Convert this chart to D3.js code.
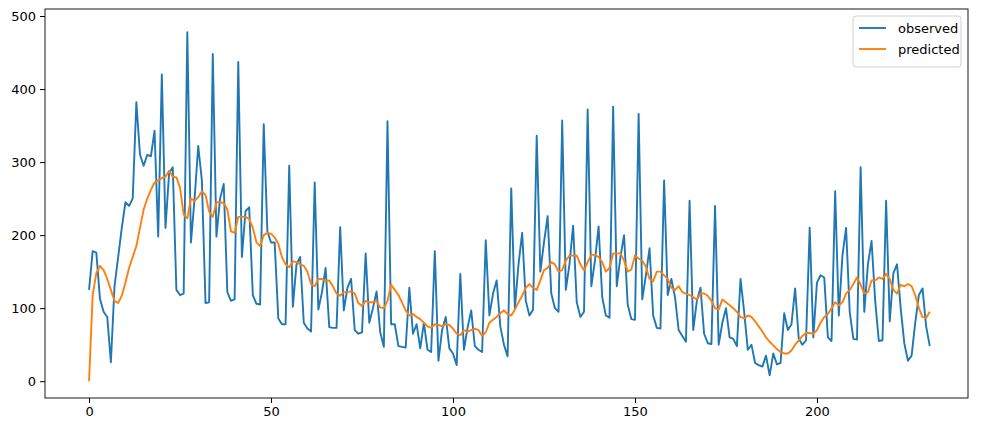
<!DOCTYPE html>
<html>
<head>
<meta charset="utf-8">
<script src="https://cdn.jsdelivr.net/npm/d3@7"></script>
<style>
  body { margin: 0; background: #fff; }
  text { font-family: "DejaVu Sans", sans-serif; }
</style>
</head>
<body>
<div id="chart"></div>
<script>
const observed = [125,178,176,113,95,88,26,130,170,210,245,240,250,382,310,295,310,308,343,198,
  420,210,285,293,125,118,120,478,190,250,322,275,107,108,448,198,250,270,122,110,
  112,437,170,233,238,118,106,105,352,205,190,190,86,78,78,295,102,160,170,80,
  72,68,272,98,122,155,74,73,73,211,97,128,140,70,65,67,175,80,100,123,
  67,47,356,78,78,48,47,46,128,65,78,45,80,43,40,178,28,70,88,45,
  38,22,147,43,73,97,48,43,40,193,90,120,138,75,50,34,264,100,160,203,
  110,90,98,336,150,190,226,120,100,95,357,125,160,213,108,88,95,372,130,165,
  212,115,90,87,376,130,170,200,105,85,84,366,112,145,182,90,73,72,275,118,
  140,115,70,62,54,247,70,110,128,65,52,51,240,50,80,100,60,58,48,140,
  95,43,50,25,22,20,35,8,38,23,25,93,70,78,127,58,50,56,210,60,
  135,145,142,60,55,260,90,172,210,95,58,57,293,95,160,192,110,55,56,247,
  82,148,160,100,52,28,35,80,118,127,75,48];
const predicted = [0,118,148,158,152,140,125,110,107,117,135,155,170,185,210,235,250,262,272,275,
  278,280,288,280,279,265,228,223,250,247,252,260,255,232,225,245,245,244,235,205,
  203,225,225,225,222,210,190,185,200,203,202,197,188,170,160,156,164,163,160,158,
  150,133,130,140,140,137,138,130,120,117,122,122,123,120,107,103,110,108,108,110,
  101,100,110,132,125,118,108,97,90,92,88,85,80,75,73,78,77,75,78,77,
  72,65,63,70,68,70,72,70,62,67,80,84,88,93,97,92,90,98,108,117,
  128,133,128,125,138,152,155,163,160,150,152,165,172,172,172,160,152,163,173,173,
  170,163,150,155,175,175,175,165,150,153,172,168,165,157,140,137,150,150,145,140,
  128,125,130,122,120,118,115,112,120,120,117,110,100,98,112,108,104,100,95,88,
  86,90,88,82,75,68,60,54,49,44,40,38,38,42,50,56,62,66,66,65,
  70,80,88,92,100,108,104,108,120,125,133,142,132,120,122,138,138,142,140,147,
  140,125,120,132,130,133,130,118,100,88,87,95];
const seriesNames = ['observed', 'predicted'];
const seriesColors = ['#1f77b4', '#ff7f0e'];
const xTicks = [0, 50, 100, 150, 200];
const yTicks = [0, 100, 200, 300, 400, 500];

const width = 986, height = 432;
const margin = { top: 9, right: 18, bottom: 34, left: 45 };

const svg = d3.select('#chart').append('svg')
  .attr('width', width).attr('height', height);

const x = d3.scaleLinear().domain([-12.1, 241.5]).range([margin.left, width - margin.right]);
const y = d3.scaleLinear().domain([-23, 509.6]).range([height - margin.bottom, margin.top]);

// axes
svg.append('g')
  .attr('transform', `translate(0,${height - margin.bottom})`)
  .call(d3.axisBottom(x).tickValues(xTicks).tickSize(5).tickPadding(4).tickFormat(d3.format('d')))
  .call(g => g.select('.domain').remove())
  .selectAll('text').style('font-size', '13px').attr('fill', '#000');

svg.append('g')
  .attr('transform', `translate(${margin.left},0)`)
  .call(d3.axisLeft(y).tickValues(yTicks).tickSize(5).tickPadding(4).tickFormat(d3.format('d')))
  .call(g => g.select('.domain').remove())
  .selectAll('text').style('font-size', '13px').attr('fill', '#000');

// lines
const line = d3.line().x((d, i) => x(i)).y(d => y(d));
[observed, predicted].forEach((s, k) => {
  svg.append('path').datum(s)
    .attr('fill', 'none')
    .attr('stroke', seriesColors[k])
    .attr('stroke-width', 1.9)
    .attr('stroke-linejoin', 'round')
    .attr('d', line);
});

// frame
svg.append('rect')
  .attr('x', margin.left).attr('y', margin.top)
  .attr('width', width - margin.left - margin.right)
  .attr('height', height - margin.top - margin.bottom)
  .attr('fill', 'none').attr('stroke', '#000').attr('stroke-width', 0.9);

// legend
const lg = svg.append('g').attr('transform', `translate(853,16)`);
lg.append('rect').attr('width', 108).attr('height', 51).attr('rx', 3)
  .attr('fill', '#fff').attr('fill-opacity', 0.8).attr('stroke', '#d0d0d0');
seriesNames.forEach((n, k) => {
  const yy = 12 + k * 21;
  lg.append('line').attr('x1', 6).attr('x2', 33).attr('y1', yy).attr('y2', yy)
    .attr('stroke', seriesColors[k]).attr('stroke-width', 1.9);
  lg.append('text').attr('x', 45).attr('y', yy + 5).style('font-size', '13px').text(n);
});
</script>
</body>
</html>
